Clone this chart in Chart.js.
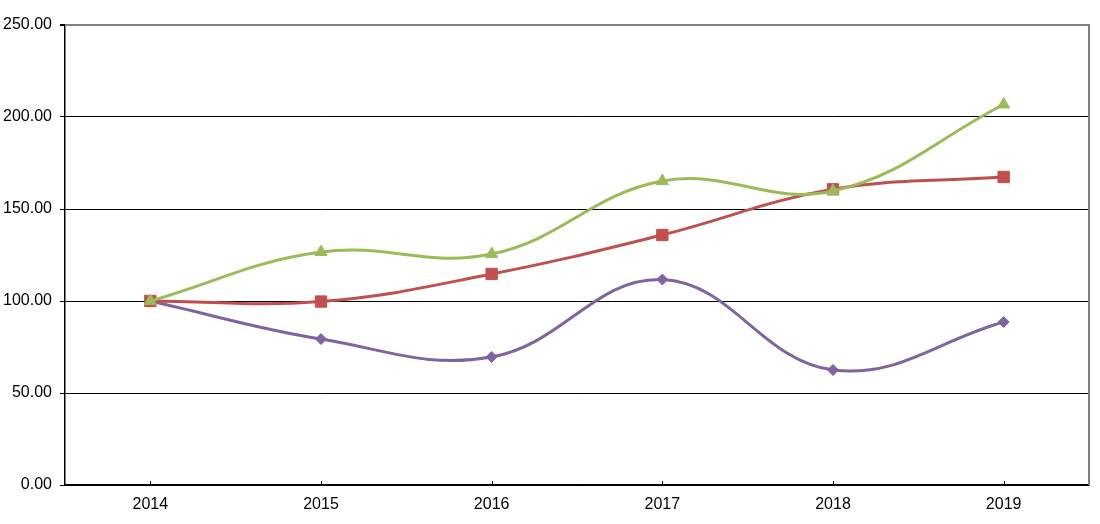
<!DOCTYPE html>
<html>
<head>
<meta charset="utf-8">
<script src="https://cdn.jsdelivr.net/npm/chart.js@4/dist/chart.umd.min.js"></script>
<style>
  html, body { margin: 0; padding: 0; background: #fff; }
  #wrap { width: 1100px; height: 524px; position: relative; }
</style>
</head>
<body>
<div id="wrap"><canvas id="c"></canvas></div>
<script>
const categories = ['2014', '2015', '2016', '2017', '2018', '2019'];
const purpleSeries = [100, 79.3, 69.6, 111.7, 62.5, 88.6];
const redSeries = [100, 99.7, 114.7, 135.9, 160.7, 167.4];
const greenSeries = [100, 126.6, 125.5, 165.2, 159.8, 206.8];
const yTicks = [0, 50, 100, 150, 200, 250];

const frame = {
  id: 'frame',
  afterDraw(chart) {
    const { ctx, chartArea: a, scales } = chart;
    ctx.save();
    ctx.strokeStyle = '#808080';
    ctx.lineWidth = 2;
    ctx.beginPath();
    ctx.moveTo(a.left, a.top);
    ctx.lineTo(a.right, a.top);
    ctx.lineTo(a.right, a.bottom);
    ctx.stroke();
    // inward x tick marks at category centres
    ctx.strokeStyle = '#000';
    ctx.lineWidth = 1;
    const xs = scales.x;
    xs.ticks.forEach((t, i) => {
      const px = Math.round(xs.getPixelForTick(i)) + 0.5;
      ctx.beginPath();
      ctx.moveTo(px, a.bottom - 4);
      ctx.lineTo(px, a.bottom);
      ctx.stroke();
    });
    ctx.restore();
  }
};

const common = { borderWidth: 3, tension: 0.4, fill: false, pointBorderWidth: 1 };

new Chart(document.getElementById('c'), {
  type: 'line',
  data: {
    labels: categories,
    datasets: [
      Object.assign({ data: greenSeries, borderColor: '#9BBB59', backgroundColor: '#9BBB59', pointStyle: 'triangle', pointRadius: 7, pointBorderColor: '#9BBB59' }, common),
      Object.assign({ data: redSeries, borderColor: '#C0504D', backgroundColor: '#C0504D', pointStyle: 'rect', pointRadius: 8, pointBorderColor: '#C0504D' }, common),
      Object.assign({ data: purpleSeries, borderColor: '#8064A2', backgroundColor: '#8064A2', pointStyle: 'rectRot', pointRadius: 5.5, pointBorderColor: '#8064A2' }, common)
    ]
  },
  options: {
    responsive: true,
    maintainAspectRatio: false,
    animation: false,
    devicePixelRatio: 1,
    layout: { padding: { top: 25, right: 11, left: 0, bottom: 0 } },
    plugins: { legend: { display: false }, tooltip: { enabled: false }, title: { display: false } },
    scales: {
      x: {
        offset: true,
        grid: { display: false, drawTicks: false },
        border: { display: true, color: '#000', width: 1.5 },
        ticks: { color: '#000', padding: 10, font: { family: 'Liberation Sans, Arial, sans-serif', size: 16 } },
        afterFit(s) { s.height = 39; }
      },
      y: {
        min: 0, max: 250,
        afterBuildTicks(s) { s.ticks = yTicks.map(v => ({ value: v })); },
        grid: {
          color: ctx => (ctx.tick && ctx.tick.value === 250) ? '#808080' : '#000',
          lineWidth: ctx => (ctx.tick && ctx.tick.value === 250) ? 2 : 1,
          tickLength: 5,
          tickColor: '#000'
        },
        border: { display: true, color: '#000', width: 1.5 },
        ticks: {
          color: '#000', padding: 8,
          font: { family: 'Liberation Sans, Arial, sans-serif', size: 16 },
          callback: v => Number(v).toFixed(2)
        },
        afterFit(s) { s.width = 65; }
      }
    }
  },
  plugins: [frame]
});
</script>
</body>
</html>
